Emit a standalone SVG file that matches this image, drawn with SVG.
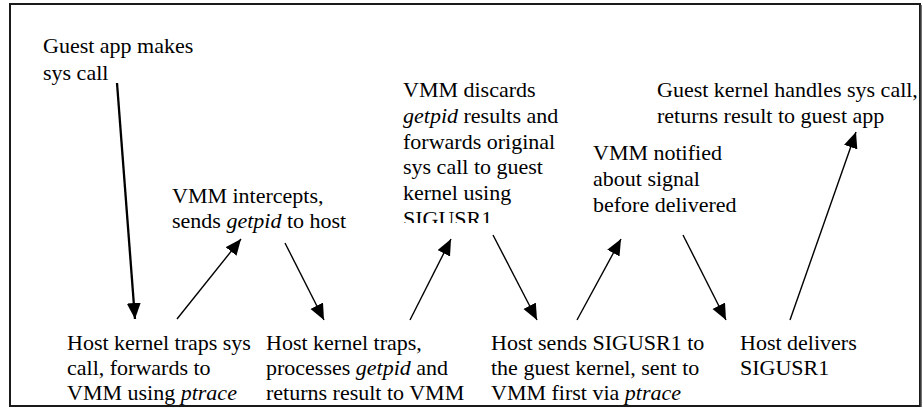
<svg xmlns="http://www.w3.org/2000/svg" width="923" height="408" viewBox="0 0 923 408">
  <defs>
    <marker id="ah" markerUnits="userSpaceOnUse" markerWidth="18" markerHeight="16" refX="16" refY="7" orient="auto">
      <path d="M0,0 L16,7 L0,14 Z" fill="#000"/>
    </marker>
    <clipPath id="clipSig">
      <rect x="395" y="200" width="120" height="23"/>
    </clipPath>
    <clipPath id="frameClip">
      <rect x="10" y="4" width="910" height="401"/>
    </clipPath>
  </defs>
  <rect x="0" y="0" width="923" height="408" fill="#fff"/>

  <g id="connectors" stroke="#000" stroke-width="1.4" fill="none">
    <line stroke-width="2.3" x1="117" y1="83" x2="135" y2="319" marker-end="url(#ah)"/>
    <line x1="177" y1="319" x2="241" y2="239" marker-end="url(#ah)"/>
    <line x1="285" y1="243" x2="324" y2="320" marker-end="url(#ah)"/>
    <line x1="410" y1="320" x2="451" y2="239" marker-end="url(#ah)"/>
    <line x1="493" y1="235" x2="537" y2="320" marker-end="url(#ah)"/>
    <line x1="577" y1="320" x2="621" y2="239" marker-end="url(#ah)"/>
    <line x1="683" y1="235" x2="726" y2="320" marker-end="url(#ah)"/>
    <line x1="790" y1="320" x2="856" y2="132" marker-end="url(#ah)"/>
  </g>

  <g clip-path="url(#frameClip)" fill="#000">
    <g id="guest-app">
      <text font-family="Liberation Serif" font-size="22" x="43" y="53">Guest app makes</text>
      <text font-family="Liberation Serif" font-size="22" x="43" y="80">sys call</text>
    </g>

    <g id="vmm-intercepts">
      <text font-family="Liberation Serif" font-size="22" x="172" y="203">VMM intercepts,</text>
      <text font-family="Liberation Serif" font-size="22" x="172" y="228">sends <tspan font-style="italic">getpid</tspan> to host</text>
    </g>

    <g id="vmm-discards">
      <text font-family="Liberation Serif" font-size="22" x="403" y="97">VMM discards</text>
      <text font-family="Liberation Serif" font-size="22" x="403" y="123"><tspan font-style="italic">getpid</tspan> results and</text>
      <text font-family="Liberation Serif" font-size="22" x="403" y="149">forwards original</text>
      <text font-family="Liberation Serif" font-size="22" x="403" y="174">sys call to guest</text>
      <text font-family="Liberation Serif" font-size="22" x="403" y="200">kernel using</text>
      <text font-family="Liberation Serif" font-size="22" x="403" y="226" clip-path="url(#clipSig)">SIGUSR1</text>
    </g>

    <g id="vmm-notified">
      <text font-family="Liberation Serif" font-size="22" x="593" y="160">VMM notified</text>
      <text font-family="Liberation Serif" font-size="22" x="593" y="186">about signal</text>
      <text font-family="Liberation Serif" font-size="22" x="593" y="212">before delivered</text>
    </g>

    <g id="guest-kernel">
      <text font-family="Liberation Serif" font-size="22" x="657" y="97">Guest kernel handles sys call,</text>
      <text font-family="Liberation Serif" font-size="22" x="657" y="123">returns result to guest app</text>
    </g>

    <g id="host-traps-1">
      <text font-family="Liberation Serif" font-size="22" x="67" y="350">Host kernel traps sys</text>
      <text font-family="Liberation Serif" font-size="22" x="67" y="375">call, forwards to</text>
      <text font-family="Liberation Serif" font-size="22" x="67" y="400">VMM using <tspan font-style="italic">ptrace</tspan></text>
    </g>

    <g id="host-traps-2">
      <text font-family="Liberation Serif" font-size="22" x="266" y="350">Host kernel traps,</text>
      <text font-family="Liberation Serif" font-size="22" x="266" y="375">processes <tspan font-style="italic">getpid</tspan> and</text>
      <text font-family="Liberation Serif" font-size="22" x="266" y="400">returns result to VMM</text>
    </g>

    <g id="host-sends">
      <text font-family="Liberation Serif" font-size="22" x="491" y="350">Host sends SIGUSR1 to</text>
      <text font-family="Liberation Serif" font-size="22" x="491" y="375">the guest kernel, sent to</text>
      <text font-family="Liberation Serif" font-size="22" x="491" y="400">VMM first via <tspan font-style="italic">ptrace</tspan></text>
    </g>

    <g id="host-delivers">
      <text font-family="Liberation Serif" font-size="22" x="740" y="350">Host delivers</text>
      <text font-family="Liberation Serif" font-size="22" x="740" y="375">SIGUSR1</text>
    </g>
  </g>

  <g id="frame">
    <rect x="10" y="4" width="910" height="402" fill="none" stroke="#1a1a1a" stroke-width="2"/>
    <line x1="921" y1="5" x2="921" y2="407" stroke="#444" stroke-width="1.5"/>
  </g>
</svg>
